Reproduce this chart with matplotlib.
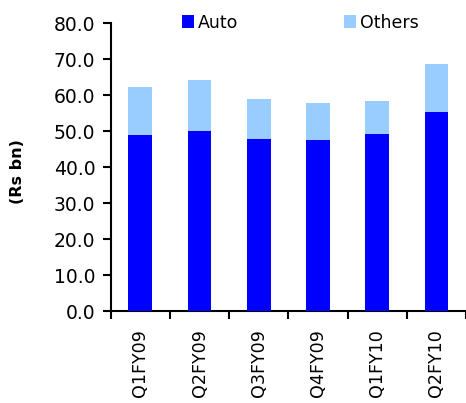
import matplotlib
matplotlib.use('Agg')
import matplotlib.pyplot as plt
import numpy as np

# Quarterly revenue split (Rs bn)
quarters = ['Q1FY09', 'Q2FY09', 'Q3FY09', 'Q4FY09', 'Q1FY10', 'Q2FY10']
auto = [49.0, 50.1, 47.9, 47.6, 49.2, 55.4]
others = [13.3, 14.2, 11.1, 10.3, 9.2, 13.3]

color_auto = '#0000FF'
color_others = '#99CCFF'

fig = plt.figure(figsize=(4.66, 4.03), dpi=100)
ax = fig.add_axes([0.2376, 0.2275, 0.7624, 0.7154])

x = np.arange(len(quarters))
ax.bar(x, auto, width=0.4, color=color_auto, label='Auto', zorder=3)
ax.bar(x, others, width=0.4, bottom=auto, color=color_others, label='Others', zorder=3)

ax.set_ylim(0, 80)
ax.set_xlim(-0.5, 5.42)
ax.set_yticks(np.arange(0, 81, 10))
ax.set_yticklabels([f'{v:.1f}' for v in np.arange(0, 81, 10)], fontsize=13.5)

# category labels at bar centres, tick marks on the boundaries
ax.set_xticks(x)
ax.set_xticklabels(quarters, rotation=90, fontsize=12.6)
ax.set_xticks(np.arange(-0.5, len(quarters), 1.0), minor=True)
ax.tick_params(axis='x', which='major', length=0, pad=13)
ax.tick_params(axis='x', which='minor', length=6, width=1.5, direction='out')
ax.tick_params(axis='y', length=6, width=1.5, direction='out', pad=5)

for side in ['top', 'right']:
    ax.spines[side].set_visible(False)
for side in ['left', 'bottom']:
    ax.spines[side].set_linewidth(1.5)

fig.text(0.037, 0.575, '(Rs bn)', rotation=90, fontsize=11.5, fontweight='bold',
         ha='center', va='center')

ax.legend(loc='center left', bbox_to_anchor=(0.39, 0.944), bbox_transform=fig.transFigure,
          ncol=2, frameon=False, fontsize=12.5, handlelength=0.7, handleheight=0.7,
          handletextpad=0.25, columnspacing=6.05, borderpad=0, borderaxespad=0)

plt.savefig('out.png', dpi=100, facecolor='white')
